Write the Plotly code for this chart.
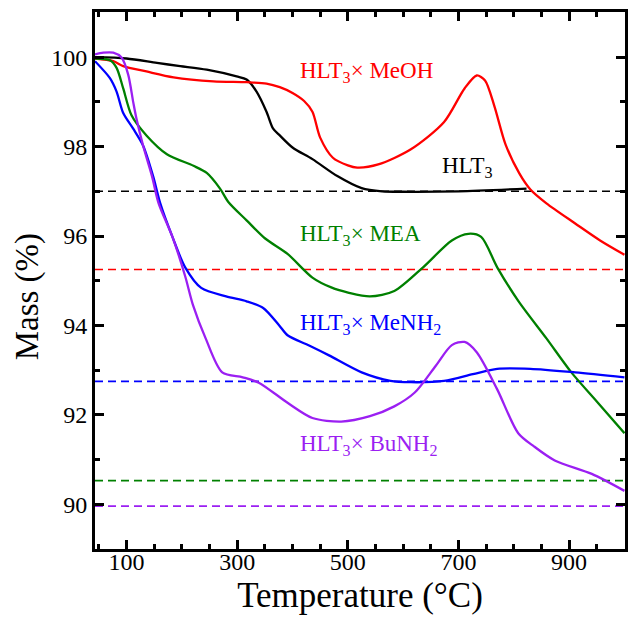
import plotly.graph_objects as go

# ---- data ----
hlt3_T = [43, 100, 155, 197, 245, 299, 317, 335, 353, 365, 377, 400, 436, 481, 525, 562, 600, 700, 823]
hlt3_m = [100.0, 99.97, 99.87, 99.8, 99.72, 99.57, 99.5, 99.23, 98.78, 98.4, 98.25, 97.98, 97.72, 97.34, 97.07, 97.0, 96.99, 97.0, 97.06]

meoh_T = [43, 76, 94, 136, 185, 257, 317, 353, 377, 400, 421, 436, 450, 473, 500, 517, 555, 614, 674, 711, 733, 748, 765, 785, 810, 830, 859, 911, 956, 1000]
meoh_m = [99.97, 99.91, 99.8, 99.68, 99.55, 99.46, 99.44, 99.41, 99.33, 99.2, 99.02, 98.78, 98.2, 97.75, 97.58, 97.53, 97.6, 97.94, 98.55, 99.3, 99.59, 99.48, 98.9, 98.05, 97.4, 97.04, 96.73, 96.28, 95.9, 95.58]

mea_T = [43, 70, 82, 94, 109, 136, 173, 221, 245, 269, 284, 317, 350, 391, 436, 470, 502, 540, 584, 636, 688, 718, 741, 770, 808, 859, 904, 950, 1000]
mea_m = [99.97, 99.93, 99.76, 99.3, 98.7, 98.25, 97.83, 97.57, 97.41, 97.06, 96.76, 96.35, 95.95, 95.6, 95.07, 94.85, 94.73, 94.65, 94.77, 95.3, 95.9, 96.05, 95.98, 95.3, 94.55, 93.71, 92.95, 92.3, 91.59]

menh2_T = [43, 70, 82, 94, 112, 130, 148, 161, 183, 206, 235, 280, 317, 347, 376, 391, 430, 466, 525, 577, 614, 674, 726, 770, 830, 911, 1000]
menh2_m = [99.91, 99.53, 99.23, 98.75, 98.4, 98.02, 97.34, 96.73, 95.98, 95.3, 94.84, 94.65, 94.54, 94.39, 94.0, 93.78, 93.55, 93.33, 92.95, 92.76, 92.73, 92.76, 92.91, 93.03, 93.03, 92.95, 92.84]

bunh2_T = [43, 58, 76, 91, 103, 112, 118, 130, 146, 158, 183, 206, 220, 243, 273, 310, 339, 391, 436, 488, 540, 584, 621, 659, 688, 711, 733, 770, 808, 837, 874, 941, 1000]
bunh2_m = [100.06, 100.1, 100.1, 99.99, 99.61, 99.0, 98.62, 98.02, 97.34, 96.73, 95.98, 95.1, 94.46, 93.71, 92.95, 92.84, 92.72, 92.27, 91.93, 91.85, 91.97, 92.19, 92.5, 93.1, 93.56, 93.63, 93.4, 92.57, 91.59, 91.29, 90.98, 90.68, 90.3]

# reference (dashed) levels and their colours
ref_levels = [97.0, 95.25, 92.75, 90.53, 89.96]
ref_colors = ["#000000", "#FF0000", "#0000FF", "#008000", "#9B1FF2"]

series_names = ["HLT<sub>3</sub>", "HLT<sub>3</sub>× MeOH", "HLT<sub>3</sub>× MEA",
                "HLT<sub>3</sub>× MeNH<sub>2</sub>", "HLT<sub>3</sub>× BuNH<sub>2</sub>"]
label_T = [667, 410, 410, 410, 410]
label_m = [97.55, 99.67, 96.03, 94.03, 91.32]

x_ticks = [100, 300, 500, 700, 900]
y_ticks = [90, 92, 94, 96, 98, 100]

colors = ["#000000", "#FF0000", "#008000", "#0000FF", "#9B1FF2"]

FONT = "Liberation Serif"

fig = go.Figure()
data = [(hlt3_T, hlt3_m), (meoh_T, meoh_m), (mea_T, mea_m), (menh2_T, menh2_m), (bunh2_T, bunh2_m)]
for (T, m), c, n in zip(data, colors, series_names):
    fig.add_trace(go.Scatter(x=T, y=m, mode="lines", name=n,
                             line=dict(color=c, width=2.3, shape="spline", smoothing=0.8),
                             showlegend=False))

for lvl, c in zip(ref_levels, ref_colors):
    fig.add_hline(y=lvl, line=dict(color=c, width=1.6, dash="8px,5px"), layer="below")

for n, c, tx, ty in zip(series_names, colors, label_T, label_m):
    fig.add_annotation(x=tx, y=ty, text=n, showarrow=False, xanchor="left", yanchor="middle",
                       font=dict(family=FONT, size=23, color=c))

# y-axis title (placed slightly below the axis centre, as in the reference)
fig.add_annotation(xref="paper", yref="paper", x=-0.127, y=0.47, text="Mass (%)",
                   textangle=-90, showarrow=False, xanchor="center", yanchor="middle",
                   font=dict(family=FONT, size=33, color="black"))

axis_common = dict(showline=True, linecolor="black", linewidth=3, mirror="ticks",
                   ticks="inside", ticklen=9, tickwidth=3, tickcolor="black",
                   showgrid=False, zeroline=False, automargin=False,
                   tickfont=dict(family=FONT, size=24, color="black"))

fig.update_xaxes(range=[43, 1001], tickvals=x_ticks, ticklabelstandoff=-11,
                 minor=dict(dtick=50, tick0=0, ticks="inside", ticklen=5, tickwidth=3, tickcolor="black"),
                 title=dict(text="Temperature (°C)", font=dict(family=FONT, size=35, color="black"), standoff=9),
                 **axis_common)
fig.update_yaxes(range=[89, 101.01], tickvals=y_ticks, ticklabelstandoff=0,
                 minor=dict(dtick=1, tick0=0, ticks="inside", ticklen=5, tickwidth=3, tickcolor="black"),
                 **axis_common)

# page body has an 8px default margin, so the figure is 8px smaller than the window
fig.update_layout(width=633, height=619, margin=dict(l=87, r=16, t=4, b=78),
                  plot_bgcolor="white", paper_bgcolor="white")

fig.write_html("out.html")
